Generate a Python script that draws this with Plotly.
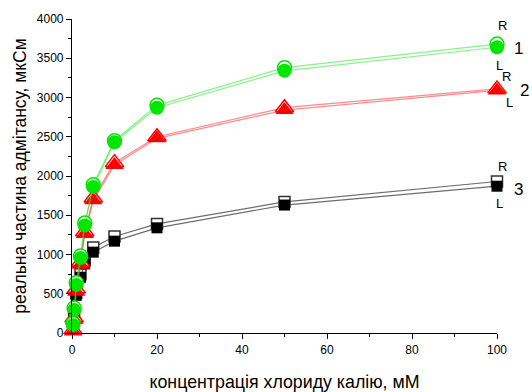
import plotly.graph_objects as go

# KCl concentration, mM
conc = [0.25, 0.5, 1, 2, 3, 5, 10, 20, 50, 100]

# real part of admittance, uS (R = right electrode, L = left electrode)
green_R = [120, 320, 640, 980, 1400, 1890, 2450, 2900, 3380, 3680]
green_L = [100, 294, 613, 954, 1370, 1861, 2430, 2870, 3340, 3640]
red_R = [40, 190, 560, 900, 1290, 1720, 2170, 2500, 2870, 3110]
red_L = [20, 166, 527, 868, 1260, 1690, 2140, 2480, 2840, 3090]
black_R = [110, 270, 510, 750, 930, 1090, 1230, 1390, 1670, 1930]
black_L = [100, 250, 480, 710, 880, 1030, 1170, 1340, 1630, 1870]

series = [
    # (R values, L values, marker symbol, size, main color, line color, outline)
    (black_R, black_L, "square", 11, "#000000", "rgba(60,60,60,0.75)", "#333333"),
    (red_R, red_L, "triangle-up", 16, "#ff0000", "rgba(255,60,60,0.6)", "#ff0000"),
    (green_R, green_L, "circle", 14, "#00e600", "rgba(40,230,40,0.55)", "#00e600"),
]

fig = go.Figure()
for vals_R, vals_L, sym, size, col, lcol, ocol in series:
    fig.add_trace(go.Scatter(
        x=conc, y=vals_R, mode="lines+markers", cliponaxis=False,
        line=dict(color=lcol, width=1.2),
        marker=dict(symbol=sym, size=size, color="white",
                    line=dict(color=ocol, width=1.5)),
        showlegend=False, hoverinfo="skip"))
    fig.add_trace(go.Scatter(
        x=conc, y=vals_L, mode="lines+markers", cliponaxis=False,
        line=dict(color=lcol, width=1.2),
        marker=dict(symbol=sym, size=size, color=col,
                    line=dict(color=col, width=0)),
        showlegend=False, hoverinfo="skip"))

font = "Liberation Sans, Arial, sans-serif"
W, H = 532, 392
L_, R_, T_, B_ = 72, 35, 19, 59

# series labels placed by page pixel position, converted to axis-domain fractions
labels = [
    ("R", 502, 25, 13), ("L", 499, 65, 13), ("1", 518, 49, 17),
    ("R", 507, 77, 13), ("L", 509, 102, 13), ("2", 524, 91, 17),
    ("R", 502, 166, 13), ("L", 499, 203, 13), ("3", 518, 189, 17),
]
for txt, px, py, fs in labels:
    fig.add_annotation(text=txt,
                       x=(px - L_) / (W - L_ - R_),
                       y=1 - (py - T_) / (H - T_ - B_),
                       xref="paper", yref="paper", showarrow=False,
                       xanchor="center", yanchor="middle",
                       font=dict(family=font, size=fs, color="black"))

axis_common = dict(
    showline=True, linecolor="black", linewidth=1.2, mirror=False,
    ticks="outside", ticklen=5, tickwidth=1.2, tickcolor="black",
    showgrid=False, zeroline=False, automargin=False,
    tickfont=dict(family=font, size=12, color="black"),
)
fig.update_xaxes(range=[0, 100], dtick=20, tick0=0,
                 minor=dict(dtick=10, ticks="outside", ticklen=3,
                            tickcolor="black", tickwidth=1.2),
                 title=dict(text="концентрація хлориду калію, мМ",
                            font=dict(family=font, size=17.8, color="black"),
                            standoff=26),
                 **axis_common)
fig.update_yaxes(range=[0, 4000], dtick=500, tick0=0,
                 minor=dict(dtick=250, ticks="outside", ticklen=3,
                            tickcolor="black", tickwidth=1.2),
                 title=dict(text="реальна частина адмітансу, мкСм",
                            font=dict(family=font, size=17.5, color="black"),
                            standoff=5),
                 **axis_common)
fig.update_layout(
    width=W, height=H,
    margin=dict(l=L_, r=R_, t=T_, b=B_),
    plot_bgcolor="white", paper_bgcolor="white",
)
fig.write_html("out.html")
